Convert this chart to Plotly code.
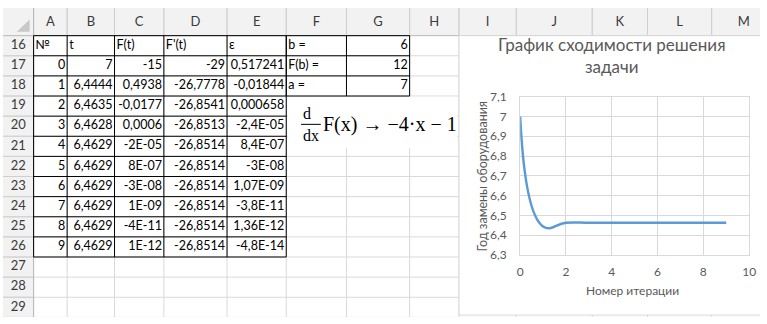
import plotly.graph_objects as go

# ---------------- sheet data ----------------
iters = [0, 1, 2, 3, 4, 5, 6, 7, 8, 9]
t_vals = [7, 6.4444, 6.4635, 6.4628, 6.4629, 6.4629, 6.4629, 6.4629, 6.4629, 6.4629]
f_vals = [-15, 0.4938, -0.0177, 0.0006, -2e-05, 8e-07, -3e-08, 1e-09, -4e-11, 1e-12]
df_vals = [-29, -26.7778, -26.8541, -26.8513, -26.8514, -26.8514, -26.8514, -26.8514, -26.8514, -26.8514]
eps_vals = [0.517241, -0.01844, 0.000658, -2.4e-05, 8.4e-07, -3e-08, 1.07e-09, -3.8e-11, 1.36e-12, -4.8e-14]
table_header = ["№", "t", "F(t)", "F'(t)", "ε"]
param_labels = ["b =", "F(b) =", "a ="]
param_vals = [6, 12, 7]
col_letters = ["A", "B", "C", "D", "E", "F", "G", "H", "I", "J", "K", "L", "M"]
row_numbers = list(range(16, 30))

chart_title = "График сходимости решения<br>задачи"
x_title = "Номер итерации"
y_title = "Год замены оборудования"

# ---------------- sheet geometry (pixels) ----------------
W, H = 767, 324
col_edges = [31, 65, 113, 163, 227, 287, 348, 412, 462, 520, 597, 653, 718, 783]
head_h = 29
row_h = 21.1
row_edges = [head_h + i * row_h for i in range(len(row_numbers) + 1)]

GRID = "#d9d9d9"
HEAD_BG = "#f2f2f2"
HEAD_LINE = "#cfcfcf"
CELL_FONT = dict(family="Lato, 'Liberation Sans', sans-serif", size=12.5, color="#000000")
HEAD_FONT = dict(family="Lato, 'Liberation Sans', sans-serif", size=13, color="#3a3a3a")
CHART_FONT = "Lato, 'Noto Sans', sans-serif"
CHART_GRAY = "#595959"


def xl_general(v):
    """Format a number the way the sheet shows it (decimal comma)."""
    a = abs(v)
    if v != 0 and a < 1e-4:
        mant, exp = f"{v:.2E}".split("E")
        mant = mant.rstrip("0").rstrip(".")
        s = f"{mant}E{exp}"
    else:
        s = f"{v:.6f}".rstrip("0").rstrip(".")
    return s.replace(".", ",")


def row_mid(i):
    return (row_edges[i] + row_edges[i + 1]) / 2


shapes = []


def line(x0, y0, x1, y1, color, width=1):
    shapes.append(dict(type="line", xref="x", yref="y", x0=x0, y0=y0, x1=x1, y1=y1,
                       line=dict(color=color, width=width), layer="below"))


def rect(x0, y0, x1, y1, fill, color=None, width=0):
    shapes.append(dict(type="rect", xref="x", yref="y", x0=x0, y0=y0, x1=x1, y1=y1,
                       fillcolor=fill, line=dict(color=color or fill, width=width), layer="below"))


# headers background
rect(0, 0, W, head_h, HEAD_BG)
rect(0, 0, col_edges[0], H, HEAD_BG)

# light cell grid
for x in col_edges:
    line(x, 0, x, H, GRID)
for y in row_edges[1:]:
    line(0, y, W, y, GRID)
# header separators
for x in col_edges:
    line(x, 0, x, head_h, HEAD_LINE)
for y in row_edges[1:]:
    line(0, y, col_edges[0], y, HEAD_LINE)
line(0, head_h, W, head_h, "#b8b8b8")
line(col_edges[0], 0, col_edges[0], H, "#b8b8b8")
# corner triangle
shapes.append(dict(type="path", xref="x", yref="y", path="M 27 12 L 27 25 L 14 25 Z",
                   fillcolor="#c8c8c8", line=dict(width=0), layer="below"))

# chart area
rect(col_edges[8], head_h, W + 20, 322, "#ffffff", GRID, 1)
# embedded formula object
rect(289, 93, 460, 147, "#ffffff")

# black borders: main table A16:E26
n_tab = len(iters) + 1
for i in range(n_tab + 1):
    line(col_edges[0], row_edges[i], col_edges[5], row_edges[i], "#000000")
for x in col_edges[:6]:
    line(x, row_edges[0], x, row_edges[n_tab], "#000000")
# parameter block F16:G18
for i in range(len(param_labels) + 1):
    line(col_edges[5], row_edges[i], col_edges[7], row_edges[i], "#000000")
for x in col_edges[5:8]:
    line(x, row_edges[0], x, row_edges[len(param_labels)], "#000000")

traces = []


def text_trace(xs, ys, texts, pos, font):
    traces.append(go.Scatter(x=xs, y=ys, text=texts, mode="text", textposition=pos,
                             textfont=font, hoverinfo="skip", showlegend=False,
                             xaxis="x", yaxis="y", cliponaxis=False))


# column letters and row numbers
text_trace([(col_edges[i] + col_edges[i + 1]) / 2 for i in range(len(col_letters))],
           [head_h / 2 + 1] * len(col_letters), col_letters, "middle center", HEAD_FONT)
text_trace([col_edges[0] / 2] * len(row_numbers), [row_mid(i) for i in range(len(row_numbers))],
           [str(r) for r in row_numbers], "middle center", HEAD_FONT)

# table header (left aligned)
text_trace([col_edges[i] + 2 for i in range(5)], [row_mid(0)] * 5, table_header,
           "middle right", CELL_FONT)

# numeric columns (right aligned)
cols = [
    [str(v) for v in iters],
    [xl_general(v) for v in t_vals],
    [xl_general(v) for v in f_vals],
    [xl_general(v) for v in df_vals],
    [xl_general(v) for v in eps_vals],
]
for c, vals in enumerate(cols):
    text_trace([col_edges[c + 1] - 2] * len(vals), [row_mid(i + 1) for i in range(len(vals))],
               vals, "middle left", CELL_FONT)

# parameters
text_trace([col_edges[5] + 2] * 3, [row_mid(i) for i in range(3)], param_labels,
           "middle right", CELL_FONT)
text_trace([col_edges[7] - 2] * 3, [row_mid(i) for i in range(3)],
           [str(v) for v in param_vals], "middle left", CELL_FONT)

# convergence line (smoothed like the spreadsheet chart)
traces.append(go.Scatter(x=iters, y=t_vals, mode="lines", xaxis="x2", yaxis="y2",
                         line=dict(color="#5B9BD5", width=2.5, shape="spline", smoothing=1.3),
                         hoverinfo="skip", showlegend=False))

fig = go.Figure(traces)

SERIF = dict(family="'Liberation Serif', 'DejaVu Serif', serif", color="#000000")
annotations = [
    dict(text="d", x=308, y=111, font=dict(size=16, **SERIF)),
    dict(text="dx", x=312, y=134, font=dict(size=16, **SERIF)),
    dict(text="F(x) → −4·x − 1", x=322, y=122, xanchor="left", font=dict(size=20, **SERIF)),
    dict(text=chart_title, x=617, y=50, font=dict(size=17, family=CHART_FONT, color=CHART_GRAY)),
    dict(text=x_title, x=638, y=296, font=dict(size=12, family=CHART_FONT, color=CHART_GRAY)),
    dict(text=y_title, x=486, y=176, textangle=-90,
         font=dict(size=12.5, family=CHART_FONT, color=CHART_GRAY)),
]
for a in annotations:
    a.update(xref="x", yref="y", showarrow=False)
    a.setdefault("xanchor", "center")
    a.setdefault("yanchor", "middle")
shapes.append(dict(type="line", xref="x", yref="y", x0=302, x1=322, y0=122, y1=122,
                   line=dict(color="#000000", width=1), layer="above"))

fig.update_layout(
    width=W, height=H, margin=dict(l=0, r=0, t=0, b=0),
    paper_bgcolor="#ffffff", plot_bgcolor="rgba(0,0,0,0)",
    separators=", ",
    shapes=shapes, annotations=annotations,
    xaxis=dict(range=[0, W], domain=[0, 1], visible=False, fixedrange=True),
    yaxis=dict(range=[H, 0], domain=[0, 1], visible=False, fixedrange=True),
    xaxis2=dict(domain=[524 / W, 756 / W], anchor="y2", range=[0, 10], dtick=2, tick0=0,
                showgrid=True, gridcolor=GRID, zeroline=False, showline=True, mirror=True,
                linecolor=GRID, ticks="", ticklabelstandoff=6,
                tickfont=dict(size=12, family=CHART_FONT, color=CHART_GRAY), fixedrange=True),
    yaxis2=dict(domain=[(H - 259) / H, (H - 93) / H], anchor="x2", range=[6.3, 7.1], dtick=0.1,
                tick0=6.3, showgrid=True, gridcolor=GRID, zeroline=False, showline=True,
                mirror=True, linecolor=GRID, ticks="", ticklabelstandoff=10,
                tickfont=dict(size=12, family=CHART_FONT, color=CHART_GRAY), fixedrange=True),
)

fig.write_html("out.html")
